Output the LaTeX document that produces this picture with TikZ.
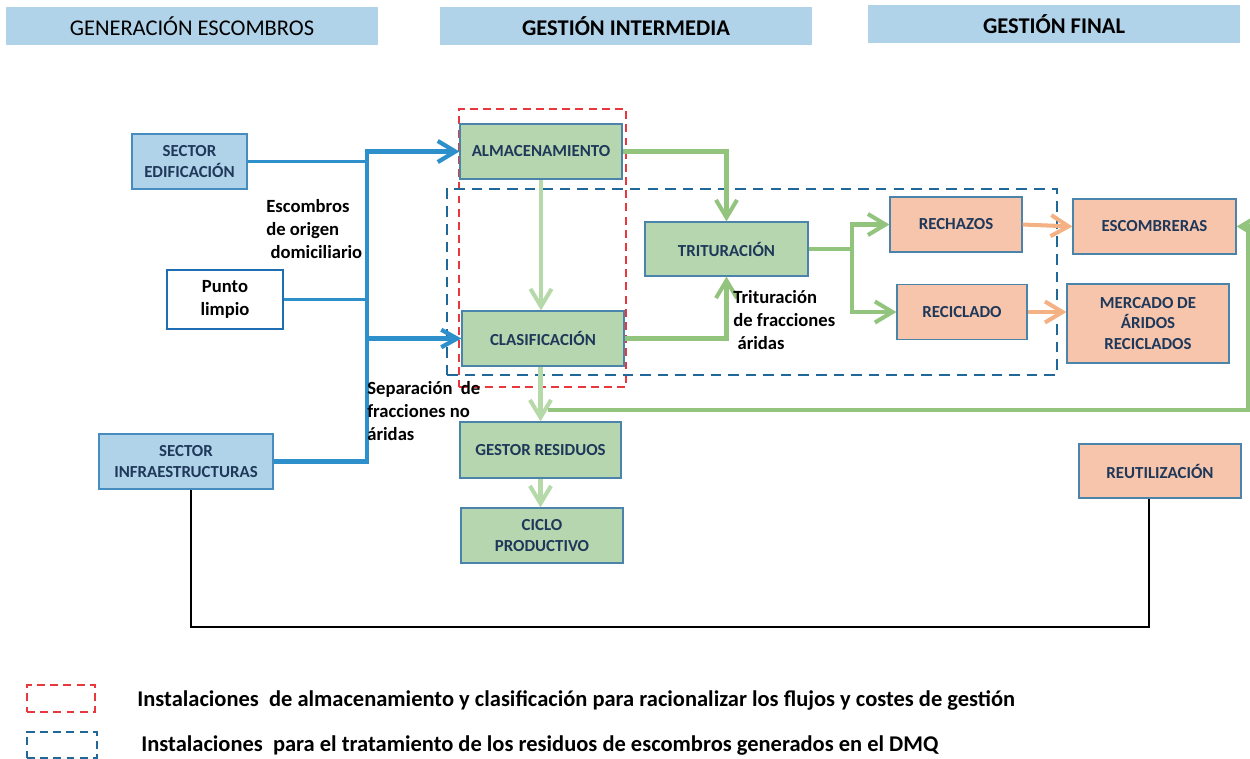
\documentclass[tikz,border=0pt]{standalone}
\usepackage{fontspec}
\setmainfont{Carlito}
\usetikzlibrary{arrows.meta}

\definecolor{hdr}{RGB}{176,211,233}
\definecolor{bfill}{RGB}{176,211,233}
\definecolor{bedge}{RGB}{70,140,190}
\definecolor{gfill}{RGB}{181,214,174}
\definecolor{ofill}{RGB}{246,197,171}
\definecolor{boxedge}{RGB}{74,132,170}
\definecolor{boxtext}{RGB}{31,56,90}
\definecolor{flowblue}{RGB}{46,144,203}
\definecolor{pedge}{RGB}{31,110,180}
\definecolor{gflowc}{RGB}{147,196,125}
\definecolor{glight}{RGB}{181,217,168}
\definecolor{oflowc}{RGB}{244,177,131}
\definecolor{dashred}{RGB}{232,56,61}
\definecolor{dashblue}{RGB}{33,104,154}

\tikzset{
  hdrbox/.style={fill=hdr, draw=none, minimum width=7.44cm, minimum height=0.76cm,
    inner sep=0pt, font=\fontsize{12.8}{14}\selectfont},
  box/.style={draw=boxedge, line width=0.7pt, align=center, inner sep=0pt,
    text=boxtext, font=\bfseries\fontsize{9.6}{11.8}\selectfont},
  gbox/.style={box, fill=gfill},
  obox/.style={box, fill=ofill},
  bbox/.style={box, fill=bfill, draw=bedge},
  barb/.style={-{Straight Barb[length=10pt,width=12pt]}},
  bluethick/.style={draw=flowblue, line width=2.4pt},
  bluethin/.style={draw=flowblue, line width=1.2pt},
  gflow/.style={draw=gflowc, line width=2.3pt, barb},
  glflow/.style={draw=glight, line width=2.3pt, barb},
  oflow/.style={draw=oflowc, line width=2.3pt, barb},
  frame/.style={line width=1.3pt, dash pattern=on 4.5pt off 3pt},
  note/.style={align=left, inner sep=0pt, font=\bfseries\fontsize{10.6}{13.2}\selectfont},
  legtext/.style={anchor=west, inner sep=0pt, font=\bfseries\fontsize{12.8}{14}\selectfont},
}

\begin{document}
\begin{tikzpicture}[x=0.02cm, y=-0.02cm]
\useasboundingbox (0,0) rectangle (1250,758);

% column headers
\node[hdrbox] (h1) at (192,26) {GENERACIÓN ESCOMBROS};
\node[hdrbox, font=\bfseries\fontsize{12.8}{14}\selectfont] (h2) at (626,26) {GESTIÓN INTERMEDIA};
\node[hdrbox, font=\bfseries\fontsize{12.8}{14}\selectfont] (h3) at (1054,24) {GESTIÓN FINAL};

% dashed installation frames
\node[draw=dashred, frame, minimum width=3.34cm, minimum height=5.56cm, inner sep=0pt] (redframe) at (542.5,248) {};
\node[draw=dashblue, frame, dash pattern=on 6pt off 4pt, minimum width=12.2cm, minimum height=3.72cm, inner sep=0pt] (blueframe) at (752,282) {};

% sources
\node[bbox, minimum width=2.30cm, minimum height=1.10cm] (edif) at (189.5,161.5) {SECTOR\\EDIFICACIÓN};
\node[box, draw=pedge, line width=1pt, fill=white, text=black, font=\bfseries\fontsize{10.6}{13.2}\selectfont,
      minimum width=2.32cm, minimum height=1.18cm] (punto) at (225,299.5) {Punto\\limpio};
\node[bbox, minimum width=3.48cm, minimum height=1.10cm] (infra) at (186,461.5) {SECTOR\\INFRAESTRUCTURAS};

% intermediate management
\node[gbox, minimum width=3.24cm, minimum height=1.10cm] (alm) at (541,151.5) {ALMACENAMIENTO};
\node[gbox, minimum width=3.24cm, minimum height=1.10cm] (clas) at (543,338.5) {CLASIFICACIÓN};
\node[gbox, minimum width=3.26cm, minimum height=1.08cm] (trit) at (726.5,249) {TRITURACIÓN};
\node[gbox, minimum width=3.22cm, minimum height=1.12cm] (gestor) at (540.5,450) {GESTOR RESIDUOS};
\node[gbox, minimum width=3.24cm, minimum height=1.10cm] (ciclo) at (542,535.5) {CICLO\\PRODUCTIVO};

% final management
\node[obox, minimum width=2.64cm, minimum height=1.10cm] (rech) at (956,224.5) {RECHAZOS};
\node[obox, minimum width=2.60cm, minimum height=1.10cm] (recic) at (962,312) {RECICLADO};
\node[obox, minimum width=3.26cm, minimum height=1.10cm] (escomb) at (1154.5,226.5) {ESCOMBRERAS};
\node[obox, minimum width=3.24cm, minimum height=1.58cm] (mercado) at (1148,323.5) {MERCADO DE\\ÁRIDOS\\RECICLADOS};
\node[obox, minimum width=3.24cm, minimum height=1.08cm] (reut) at (1160,471) {REUTILIZACIÓN};

% collector bar on the left
\coordinate (bt) at (367,151.5);
\coordinate (bm) at (367,338.5);
\draw[bluethick, barb, line join=miter] (infra.east) -| (bt) -- (alm.west);
\draw[bluethick, -{Straight Barb[length=9pt,width=10pt]}] (bm) -- (clas.west);
\draw[bluethin] (edif.east) -- (edif.east -| bt);
\draw[bluethin] (punto.east) -- (punto.east -| bt);

% green flows
\draw[gflow] (alm.east) -| (trit.north);
\draw[gflow] (clas.east) -| (trit.south);
\draw[glflow] (alm.south) -- (alm.south |- clas.north);
\coordinate (split) at (852,249);
\draw[gflow] (trit.east) -- (split) |- (rech.west);
\draw[gflow] (split) |- (recic.west);
\draw[glflow] (gestor.north |- clas.south) -- (gestor.north);
\draw[glflow] (gestor.south) -- (gestor.south |- ciclo.north);
\coordinate (loopstart) at (548,410);
\coordinate (loopcorner) at (1248,410);
\draw[gflow] (loopstart) -- (loopcorner) |- (escomb.east);

% orange flows
\draw[oflow] (rech.east) -- (escomb.west);
\draw[oflow] (recic.east) -- (recic.east -| mercado.west);

% reuse loop
\coordinate (bl) at (191,627);
\coordinate (br) at (1149,627);
\draw[line width=1.6pt] (infra.south -| bl) -- (bl) -- (br) -- (reut.south -| br);

% flow notes
\node[note, anchor=north west] (n1) at (266,199) {Escombros\\de origen\\\ domiciliario};
\node[note, anchor=north west] (n2) at (367,381) {Separación \ de\\fracciones no\\áridas};
\node[note, anchor=north west] (n3) at (733,290) {Trituración\\de fracciones\\\ áridas};

% legend
\node[draw=dashred, frame, minimum width=1.36cm, minimum height=0.54cm, inner sep=0pt] (legA) at (61,698.5) {};
\node[draw=dashblue, frame, minimum width=1.40cm, minimum height=0.52cm, inner sep=0pt] (legB) at (62,745) {};
\node[legtext] (legAtxt) at (137,700) {Instalaciones \ de almacenamiento y clasificación para racionalizar los flujos y costes de gestión};
\node[legtext] (legBtxt) at (141,746) {Instalaciones \ para el tratamiento de los residuos de escombros generados en el DMQ};
\end{tikzpicture}
\end{document}
